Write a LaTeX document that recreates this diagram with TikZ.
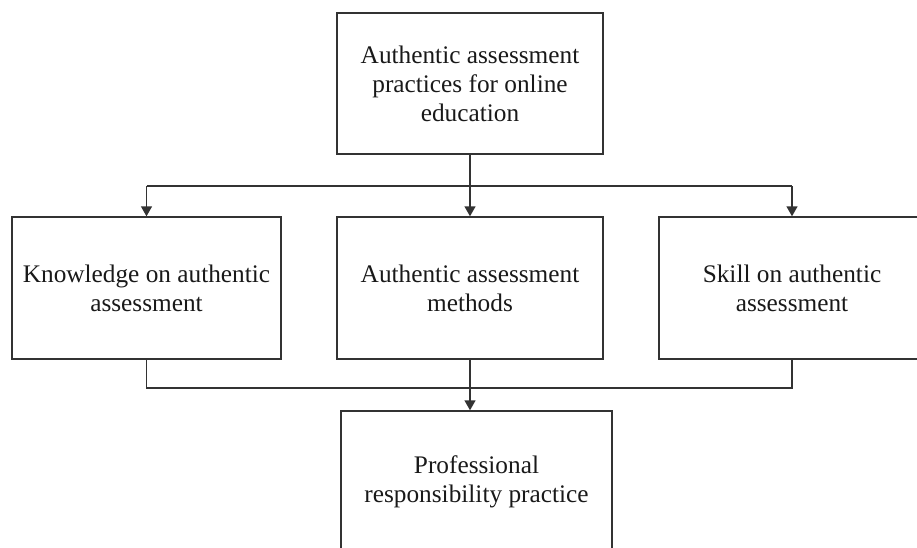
\documentclass[tikz,border=0pt]{standalone}
\usepackage{fontspec}
\setmainfont{Liberation Serif}
\usetikzlibrary{arrows.meta}
\definecolor{linegray}{gray}{0.2}
\begin{document}
\begin{tikzpicture}[x=1pt,y=-1pt,
  box/.style={draw=linegray, line width=1.4pt, align=center, inner sep=0pt,
    font=\fontsize{25.3}{29}\selectfont, text=black!90},
  link/.style={draw=linegray, line width=1.4pt},
  arr/.style={link, -{Triangle[width=11pt,length=10pt]}}]
  \useasboundingbox (0,0) rectangle (917,548);
  \clip (0,0) rectangle (917,548);

  % boxes
  \node[box, minimum width=266pt, minimum height=141pt] (top) at (470,83.5)
    {Authentic assessment\\practices for online\\education};
  \node[box, minimum width=269pt, minimum height=142pt] (left) at (146.5,288)
    {Knowledge on authentic\\assessment};
  \node[box, minimum width=266pt, minimum height=142pt] (mid) at (470,288)
    {Authentic assessment\\methods};
  \node[box, minimum width=266pt, minimum height=142pt] (right) at (792,288)
    {Skill on authentic\\assessment};
  \node[box, minimum width=271pt, minimum height=142pt] (bot) at (476.5,482)
    {Professional\\responsibility practice};

  % branching from the top box
  \coordinate (busT) at (470,186);
  \draw[link] (top.south) -- (busT);
  \draw[link] (busT -| left.north) -- (busT -| right.north);
  \draw[arr] (busT -| left.north) -- (left.north);
  \draw[arr] (busT) -- (mid.north);
  \draw[arr] (busT -| right.north) -- (right.north);

  % merging into the bottom box
  \coordinate (busB) at (470,388);
  \draw[link] (left.south) -- (left.south |- busB) -- (right.south |- busB) -- (right.south);
  \draw[arr] (mid.south) -- (mid.south |- bot.north);
\end{tikzpicture}
\end{document}
